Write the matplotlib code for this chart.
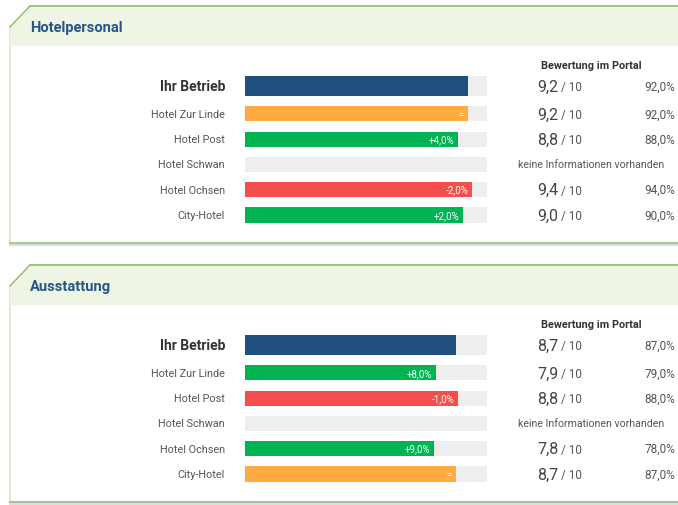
import matplotlib.pyplot as plt
from matplotlib.patches import Polygon
from matplotlib.transforms import blended_transform_factory

plt.rcParams['font.family'] = ['Roboto', 'DejaVu Sans']

# data
hotels = ["Ihr Betrieb", "Hotel Zur Linde", "Hotel Post", "Hotel Schwan", "Hotel Ochsen", "City-Hotel"]
personal_scores = [9.2, 9.2, 8.8, None, 9.4, 9.0]
ausstattung_scores = [8.7, 7.9, 8.8, None, 7.8, 8.7]
sections = ["Hotelpersonal", "Ausstattung"]
column_title = "Bewertung im Portal"
no_info = "keine Informationen vorhanden"

W, H = 678, 506
BLUE = "#21507f"
GREEN = "#00b451"
RED = "#f54e4e"
ORANGE = "#ffab42"
TRACK = "#eeeeee"
TXT = "#555555"

fig = plt.figure(figsize=(W / 100, H / 100), dpi=100)
bg = fig.add_axes([0, 0, 1, 1])
bg.set_xlim(0, W)
bg.set_ylim(H, 0)
bg.axis("off")


def fmt(v):
    return f"{v:.1f}".replace(".", ",")


def panel(top, bottom, title):
    # frame with cut top-left corner
    pts = [(10, top + 21), (30, top), (W + 5, top), (W + 5, bottom), (10, bottom)]
    bg.add_patch(Polygon(pts, closed=True, fc="white", ec="#d3e3c4", lw=1.0, zorder=1))
    head = [(10, top + 21), (30, top), (W + 5, top), (W + 5, top + 40), (10, top + 40)]
    bg.add_patch(Polygon(head, closed=True, fc="#eef5e4", ec="none", zorder=2))
    bg.plot([30, W + 5], [top, top], color="#8fbf62", lw=1.2, zorder=3)
    bg.plot([10, 30], [top + 21, top], color="#8fbf62", lw=1.0, zorder=3)
    bg.plot([10, W + 5], [bottom, bottom], color="#a8c78c", lw=1.5, zorder=3)
    bg.plot([10, W + 5], [bottom + 2, bottom + 2], color="#dddddd", lw=1.5, zorder=3)
    bg.text(30, top + 21, title, fontsize=10.5, fontweight="bold", color="#26558a",
            va="center", ha="left", zorder=4)


def bars(scores, row_top, row_bot, header_y):
    ypos = [0, 1.1, 2.1, 3.1, 4.1, 5.1]
    ax = fig.add_axes([245 / W, 1 - row_bot / H, 242 / W, (row_bot - row_top) / H])
    ax.set_xlim(0, 100)
    ax.set_ylim(5.6, -0.5)
    ax.axis("off")
    own = scores[0]
    tr = blended_transform_factory(fig.transFigure, ax.transData)
    for i, (name, s) in enumerate(zip(hotels, scores)):
        y = ypos[i]
        h = 0.8 if i == 0 else 0.6
        ax.barh(y, 100, height=h, color=TRACK, zorder=1)
        if i == 0:
            ax.text(225 / W, y, name, transform=tr, ha="right", va="center",
                    fontsize=10, fontweight="bold", color="#333333")
        else:
            ax.text(225 / W, y, name, transform=tr, ha="right", va="center",
                    fontsize=7.8, color=TXT)
        if s is None:
            ax.text(591 / W, y, no_info, transform=tr, ha="center", va="center",
                    fontsize=7.6, color=TXT)
            continue
        pct = s * 10
        if i == 0:
            col, lab = BLUE, ""
        else:
            d = round((own - s) * 10, 1)
            if d > 0:
                col, lab = GREEN, "+" + fmt(d) + "%"
            elif d < 0:
                col, lab = RED, fmt(d) + "%"
            else:
                col, lab = ORANGE, "="
        ax.barh(y, pct, height=h, color=col, zorder=2)
        if lab:
            ax.text(pct - 1.5, y, lab, ha="right", va="center", fontsize=7,
                    color="white", zorder=3)
        ax.text(537 / W, y, fmt(s), transform=tr, ha="left", va="center",
                fontsize=11.5, color="#444444")
        ax.text(561 / W, y + 0.03, "/ 10", transform=tr, ha="left", va="center",
                fontsize=8.5, color=TXT)
        ax.text(675 / W, y, fmt(pct) + "%", transform=tr, ha="right", va="center",
                fontsize=8.5, color=TXT)
    bg.text(591, header_y, column_title, ha="center", va="center", fontsize=7.8,
            fontweight="bold", color="#333333")


panel(7, 244, sections[0])
panel(266, 503, sections[1])
bars(personal_scores, 74.4, 228.6, 66)
bars(ausstattung_scores, 333.4, 487.6, 325)

fig.savefig("out.png", dpi=100)
